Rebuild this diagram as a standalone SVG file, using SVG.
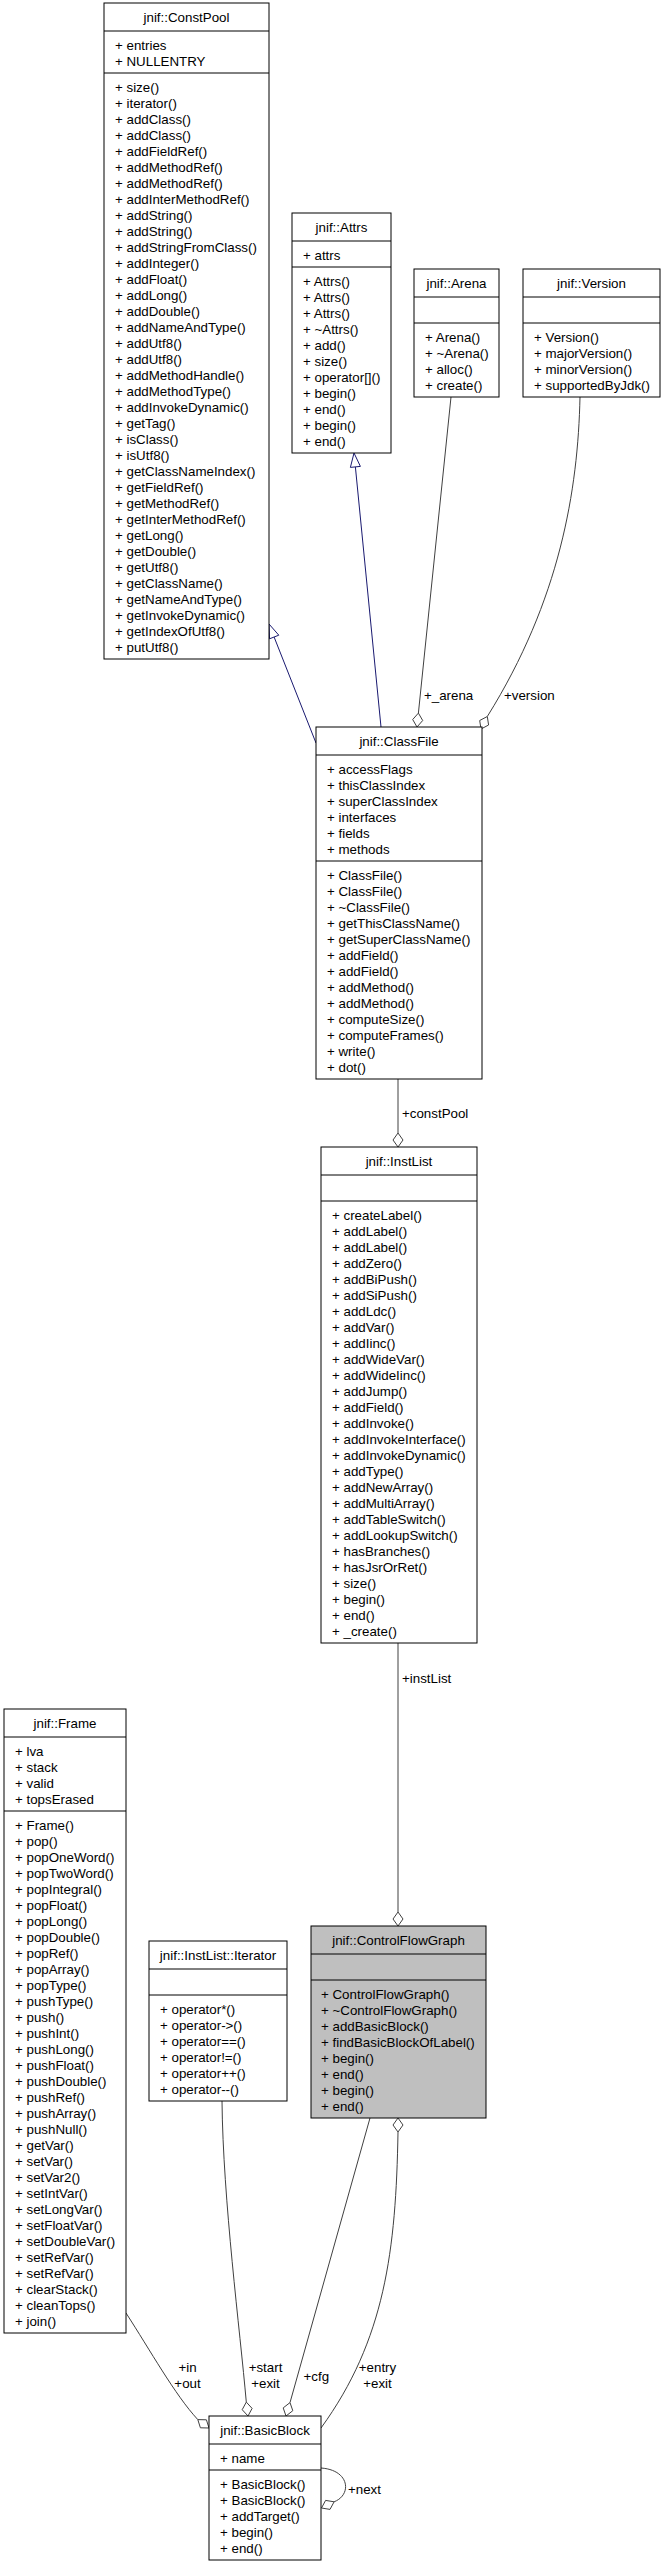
<svg xmlns="http://www.w3.org/2000/svg" width="665" height="2568" viewBox="0 0 665 2568">
<style>
rect.b{fill:#fff;stroke:#000;stroke-width:1}
rect.g{fill:#bfbfbf;stroke:#000;stroke-width:1}
line.s{stroke:#000;stroke-width:1}
text{font-family:"Liberation Sans",Arial,Helvetica,sans-serif;font-size:13.33px;fill:#000}
text.c{text-anchor:middle}
.e{fill:none;stroke:#404040;stroke-width:1}
.i{fill:none;stroke:#191970;stroke-width:1}
.d{fill:#fff;stroke:#404040;stroke-width:1}
.tri{fill:#fff;stroke:#191970;stroke-width:1}
</style>
<rect width="665" height="2568" fill="#fff"/>

<g id="connectors">
  <!-- inheritance ClassFile -> ConstPool -->
  <path class="i" d="M316,743 L274.1,637"/>
  <polygon class="tri" points="269,624 278.8,635.2 269.5,638.8"/>
  <!-- inheritance ClassFile -> Attrs -->
  <path class="i" d="M381,727 L355.4,467"/>
  <polygon class="tri" points="354,453 360.4,466.4 350.4,467.4"/>
  <!-- _arena -->
  <path class="e" d="M451,397 L418.4,713.1"/>
  <polygon class="d" points="417,727 422.7,720.5 418.4,713.1 412.7,719.5"/>
  <text x="424" y="700">+_arena</text>
  <!-- version -->
  <path class="e" d="M580,397 C578,490 560,600 487.3,716.5"/>
  <polygon class="d" points="481,729 488.6,725 487.3,716.5 479.7,720.5"/>
  <text x="504" y="700">+version</text>
  <!-- constPool -->
  <path class="e" d="M398,1079 L398,1133"/>
  <polygon class="d" points="398,1147 403,1140 398,1133 393,1140"/>
  <text x="402" y="1118">+constPool</text>
  <!-- instList -->
  <path class="e" d="M398,1643 L398,1912"/>
  <polygon class="d" points="398,1926 403,1919 398,1912 393,1919"/>
  <text x="402" y="1683">+instList</text>
  <!-- in/out Frame -> BasicBlock -->
  <path class="e" d="M126,2313 C150,2350 175,2395 197.8,2419.6"/>
  <polygon class="d" points="209,2428 200.4,2427.8 197.8,2419.6 206.4,2419.8"/>
  <text class="c" x="187.5" y="2372">+in</text>
  <text class="c" x="187.5" y="2388">+out</text>
  <!-- start/exit Iterator -> BasicBlock -->
  <path class="e" d="M222,2101 C223,2200 240,2330 246.3,2402.1"/>
  <polygon class="d" points="248,2416 252.1,2408.4 246.3,2402.1 242.2,2409.7"/>
  <text class="c" x="265.5" y="2372">+start</text>
  <text class="c" x="265.5" y="2388">+exit</text>
  <!-- cfg -->
  <path class="e" d="M370,2118 L290,2402.6"/>
  <polygon class="d" points="286,2416 292.8,2410.7 290,2402.6 283.2,2407.9"/>
  <text class="c" x="316.3" y="2380.5">+cfg</text>
  <!-- entry/exit BasicBlock -> CFG -->
  <path class="e" d="M398,2132 C396,2250 385,2340 321,2428"/>
  <polygon class="d" points="398,2118 403,2125 398,2132 393,2125"/>
  <text class="c" x="377.5" y="2372">+entry</text>
  <text class="c" x="377.5" y="2388">+exit</text>
  <!-- next self loop -->
  <path class="e" d="M321,2468 C350,2470 352,2495 334.1,2501.8"/>
  <polygon class="d" points="321.5,2508 325.6,2500.4 334.1,2501.8 330,2509.4"/>
  <text x="348" y="2494">+next</text>
</g>

<g id="ConstPool">
  <rect class="b" x="104" y="3" width="165" height="656"/>
  <line class="s" x1="104" y1="31" x2="269" y2="31"/>
  <line class="s" x1="104" y1="73" x2="269" y2="73"/>
  <text class="c" x="186.5" y="22">jnif::ConstPool</text>
  <text x="115" y="50"><tspan x="115">+ entries</tspan><tspan x="115" dy="16">+ NULLENTRY</tspan></text>
  <text x="115" y="92"><tspan x="115">+ size()</tspan><tspan x="115" dy="16">+ iterator()</tspan><tspan x="115" dy="16">+ addClass()</tspan><tspan x="115" dy="16">+ addClass()</tspan><tspan x="115" dy="16">+ addFieldRef()</tspan><tspan x="115" dy="16">+ addMethodRef()</tspan><tspan x="115" dy="16">+ addMethodRef()</tspan><tspan x="115" dy="16">+ addInterMethodRef()</tspan><tspan x="115" dy="16">+ addString()</tspan><tspan x="115" dy="16">+ addString()</tspan><tspan x="115" dy="16">+ addStringFromClass()</tspan><tspan x="115" dy="16">+ addInteger()</tspan><tspan x="115" dy="16">+ addFloat()</tspan><tspan x="115" dy="16">+ addLong()</tspan><tspan x="115" dy="16">+ addDouble()</tspan><tspan x="115" dy="16">+ addNameAndType()</tspan><tspan x="115" dy="16">+ addUtf8()</tspan><tspan x="115" dy="16">+ addUtf8()</tspan><tspan x="115" dy="16">+ addMethodHandle()</tspan><tspan x="115" dy="16">+ addMethodType()</tspan><tspan x="115" dy="16">+ addInvokeDynamic()</tspan><tspan x="115" dy="16">+ getTag()</tspan><tspan x="115" dy="16">+ isClass()</tspan><tspan x="115" dy="16">+ isUtf8()</tspan><tspan x="115" dy="16">+ getClassNameIndex()</tspan><tspan x="115" dy="16">+ getFieldRef()</tspan><tspan x="115" dy="16">+ getMethodRef()</tspan><tspan x="115" dy="16">+ getInterMethodRef()</tspan><tspan x="115" dy="16">+ getLong()</tspan><tspan x="115" dy="16">+ getDouble()</tspan><tspan x="115" dy="16">+ getUtf8()</tspan><tspan x="115" dy="16">+ getClassName()</tspan><tspan x="115" dy="16">+ getNameAndType()</tspan><tspan x="115" dy="16">+ getInvokeDynamic()</tspan><tspan x="115" dy="16">+ getIndexOfUtf8()</tspan><tspan x="115" dy="16">+ putUtf8()</tspan></text>
</g>

<g id="Attrs">
  <rect class="b" x="292" y="213" width="99" height="240"/>
  <line class="s" x1="292" y1="241" x2="391" y2="241"/>
  <line class="s" x1="292" y1="267" x2="391" y2="267"/>
  <text class="c" x="341.5" y="232">jnif::Attrs</text>
  <text x="303" y="260">+ attrs</text>
  <text x="303" y="286"><tspan x="303">+ Attrs()</tspan><tspan x="303" dy="16">+ Attrs()</tspan><tspan x="303" dy="16">+ Attrs()</tspan><tspan x="303" dy="16">+ ~Attrs()</tspan><tspan x="303" dy="16">+ add()</tspan><tspan x="303" dy="16">+ size()</tspan><tspan x="303" dy="16">+ operator[]()</tspan><tspan x="303" dy="16">+ begin()</tspan><tspan x="303" dy="16">+ end()</tspan><tspan x="303" dy="16">+ begin()</tspan><tspan x="303" dy="16">+ end()</tspan></text>
</g>

<g id="Arena">
  <rect class="b" x="414" y="269" width="85" height="128"/>
  <line class="s" x1="414" y1="297" x2="499" y2="297"/>
  <line class="s" x1="414" y1="323" x2="499" y2="323"/>
  <text class="c" x="456.5" y="288">jnif::Arena</text>
  <text x="425" y="342"><tspan x="425">+ Arena()</tspan><tspan x="425" dy="16">+ ~Arena()</tspan><tspan x="425" dy="16">+ alloc()</tspan><tspan x="425" dy="16">+ create()</tspan></text>
</g>

<g id="Version">
  <rect class="b" x="523" y="269" width="137" height="128"/>
  <line class="s" x1="523" y1="297" x2="660" y2="297"/>
  <line class="s" x1="523" y1="323" x2="660" y2="323"/>
  <text class="c" x="591.5" y="288">jnif::Version</text>
  <text x="534" y="342"><tspan x="534">+ Version()</tspan><tspan x="534" dy="16">+ majorVersion()</tspan><tspan x="534" dy="16">+ minorVersion()</tspan><tspan x="534" dy="16">+ supportedByJdk()</tspan></text>
</g>

<g id="ClassFile">
  <rect class="b" x="316" y="727" width="166" height="352"/>
  <line class="s" x1="316" y1="755" x2="482" y2="755"/>
  <line class="s" x1="316" y1="861" x2="482" y2="861"/>
  <text class="c" x="399" y="746">jnif::ClassFile</text>
  <text x="327" y="774"><tspan x="327">+ accessFlags</tspan><tspan x="327" dy="16">+ thisClassIndex</tspan><tspan x="327" dy="16">+ superClassIndex</tspan><tspan x="327" dy="16">+ interfaces</tspan><tspan x="327" dy="16">+ fields</tspan><tspan x="327" dy="16">+ methods</tspan></text>
  <text x="327" y="880"><tspan x="327">+ ClassFile()</tspan><tspan x="327" dy="16">+ ClassFile()</tspan><tspan x="327" dy="16">+ ~ClassFile()</tspan><tspan x="327" dy="16">+ getThisClassName()</tspan><tspan x="327" dy="16">+ getSuperClassName()</tspan><tspan x="327" dy="16">+ addField()</tspan><tspan x="327" dy="16">+ addField()</tspan><tspan x="327" dy="16">+ addMethod()</tspan><tspan x="327" dy="16">+ addMethod()</tspan><tspan x="327" dy="16">+ computeSize()</tspan><tspan x="327" dy="16">+ computeFrames()</tspan><tspan x="327" dy="16">+ write()</tspan><tspan x="327" dy="16">+ dot()</tspan></text>
</g>

<g id="InstList">
  <rect class="b" x="321" y="1147" width="156" height="496"/>
  <line class="s" x1="321" y1="1175" x2="477" y2="1175"/>
  <line class="s" x1="321" y1="1201" x2="477" y2="1201"/>
  <text class="c" x="399" y="1166">jnif::InstList</text>
  <text x="332" y="1220"><tspan x="332">+ createLabel()</tspan><tspan x="332" dy="16">+ addLabel()</tspan><tspan x="332" dy="16">+ addLabel()</tspan><tspan x="332" dy="16">+ addZero()</tspan><tspan x="332" dy="16">+ addBiPush()</tspan><tspan x="332" dy="16">+ addSiPush()</tspan><tspan x="332" dy="16">+ addLdc()</tspan><tspan x="332" dy="16">+ addVar()</tspan><tspan x="332" dy="16">+ addIinc()</tspan><tspan x="332" dy="16">+ addWideVar()</tspan><tspan x="332" dy="16">+ addWideIinc()</tspan><tspan x="332" dy="16">+ addJump()</tspan><tspan x="332" dy="16">+ addField()</tspan><tspan x="332" dy="16">+ addInvoke()</tspan><tspan x="332" dy="16">+ addInvokeInterface()</tspan><tspan x="332" dy="16">+ addInvokeDynamic()</tspan><tspan x="332" dy="16">+ addType()</tspan><tspan x="332" dy="16">+ addNewArray()</tspan><tspan x="332" dy="16">+ addMultiArray()</tspan><tspan x="332" dy="16">+ addTableSwitch()</tspan><tspan x="332" dy="16">+ addLookupSwitch()</tspan><tspan x="332" dy="16">+ hasBranches()</tspan><tspan x="332" dy="16">+ hasJsrOrRet()</tspan><tspan x="332" dy="16">+ size()</tspan><tspan x="332" dy="16">+ begin()</tspan><tspan x="332" dy="16">+ end()</tspan><tspan x="332" dy="16">+ _create()</tspan></text>
</g>

<g id="Frame">
  <rect class="b" x="4" y="1709" width="122" height="624"/>
  <line class="s" x1="4" y1="1737" x2="126" y2="1737"/>
  <line class="s" x1="4" y1="1811" x2="126" y2="1811"/>
  <text class="c" x="65" y="1728">jnif::Frame</text>
  <text x="15" y="1756"><tspan x="15">+ lva</tspan><tspan x="15" dy="16">+ stack</tspan><tspan x="15" dy="16">+ valid</tspan><tspan x="15" dy="16">+ topsErased</tspan></text>
  <text x="15" y="1830"><tspan x="15">+ Frame()</tspan><tspan x="15" dy="16">+ pop()</tspan><tspan x="15" dy="16">+ popOneWord()</tspan><tspan x="15" dy="16">+ popTwoWord()</tspan><tspan x="15" dy="16">+ popIntegral()</tspan><tspan x="15" dy="16">+ popFloat()</tspan><tspan x="15" dy="16">+ popLong()</tspan><tspan x="15" dy="16">+ popDouble()</tspan><tspan x="15" dy="16">+ popRef()</tspan><tspan x="15" dy="16">+ popArray()</tspan><tspan x="15" dy="16">+ popType()</tspan><tspan x="15" dy="16">+ pushType()</tspan><tspan x="15" dy="16">+ push()</tspan><tspan x="15" dy="16">+ pushInt()</tspan><tspan x="15" dy="16">+ pushLong()</tspan><tspan x="15" dy="16">+ pushFloat()</tspan><tspan x="15" dy="16">+ pushDouble()</tspan><tspan x="15" dy="16">+ pushRef()</tspan><tspan x="15" dy="16">+ pushArray()</tspan><tspan x="15" dy="16">+ pushNull()</tspan><tspan x="15" dy="16">+ getVar()</tspan><tspan x="15" dy="16">+ setVar()</tspan><tspan x="15" dy="16">+ setVar2()</tspan><tspan x="15" dy="16">+ setIntVar()</tspan><tspan x="15" dy="16">+ setLongVar()</tspan><tspan x="15" dy="16">+ setFloatVar()</tspan><tspan x="15" dy="16">+ setDoubleVar()</tspan><tspan x="15" dy="16">+ setRefVar()</tspan><tspan x="15" dy="16">+ setRefVar()</tspan><tspan x="15" dy="16">+ clearStack()</tspan><tspan x="15" dy="16">+ cleanTops()</tspan><tspan x="15" dy="16">+ join()</tspan></text>
</g>

<g id="InstListIterator">
  <rect class="b" x="149" y="1941" width="138" height="160"/>
  <line class="s" x1="149" y1="1969" x2="287" y2="1969"/>
  <line class="s" x1="149" y1="1995" x2="287" y2="1995"/>
  <text class="c" x="218" y="1960">jnif::InstList::Iterator</text>
  <text x="160" y="2014"><tspan x="160">+ operator*()</tspan><tspan x="160" dy="16">+ operator-&gt;()</tspan><tspan x="160" dy="16">+ operator==()</tspan><tspan x="160" dy="16">+ operator!=()</tspan><tspan x="160" dy="16">+ operator++()</tspan><tspan x="160" dy="16">+ operator--()</tspan></text>
</g>

<g id="ControlFlowGraph">
  <rect class="g" x="311" y="1926" width="175" height="192"/>
  <line class="s" x1="311" y1="1954" x2="486" y2="1954"/>
  <line class="s" x1="311" y1="1980" x2="486" y2="1980"/>
  <text class="c" x="398.5" y="1945">jnif::ControlFlowGraph</text>
  <text x="321" y="1999"><tspan x="321">+ ControlFlowGraph()</tspan><tspan x="321" dy="16">+ ~ControlFlowGraph()</tspan><tspan x="321" dy="16">+ addBasicBlock()</tspan><tspan x="321" dy="16">+ findBasicBlockOfLabel()</tspan><tspan x="321" dy="16">+ begin()</tspan><tspan x="321" dy="16">+ end()</tspan><tspan x="321" dy="16">+ begin()</tspan><tspan x="321" dy="16">+ end()</tspan></text>
</g>

<g id="BasicBlock">
  <rect class="b" x="209" y="2416" width="112" height="144"/>
  <line class="s" x1="209" y1="2444" x2="321" y2="2444"/>
  <line class="s" x1="209" y1="2470" x2="321" y2="2470"/>
  <text class="c" x="265" y="2435">jnif::BasicBlock</text>
  <text x="220" y="2463">+ name</text>
  <text x="220" y="2489"><tspan x="220">+ BasicBlock()</tspan><tspan x="220" dy="16">+ BasicBlock()</tspan><tspan x="220" dy="16">+ addTarget()</tspan><tspan x="220" dy="16">+ begin()</tspan><tspan x="220" dy="16">+ end()</tspan></text>
</g>
</svg>
